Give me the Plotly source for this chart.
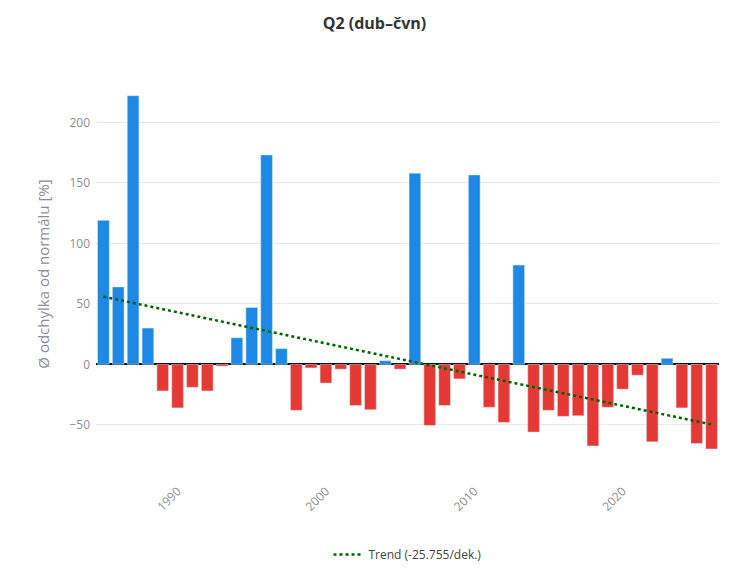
import numpy as np
import plotly.graph_objects as go

# Q2 precipitation anomaly per year (% of normal)
years = list(range(1985, 2027))
anomaly = [119, 64, 222, 30, -22, -36, -19, -22, -1.5, 22,
           47, 173, 13, -38, -3, -15.5, -4, -34, -37.5, 3,
           -4, 158, -50.5, -34, -12, 156.5, -35.5, -48, 82, -56,
           -38, -43, -42.5, -67.5, -35.5, -20.5, -9, -64, 5, -36,
           -65.5, -70]
trend_label = "Trend (-25.755/dek.)"

colors = ['#1E88E5' if v >= 0 else '#E53935' for v in anomaly]

# linear trend fitted to the anomalies
slope, intercept = np.polyfit(years, anomaly, 1)
trend = [slope * y + intercept for y in years]

fig = go.Figure()
fig.add_trace(go.Bar(x=years, y=anomaly, marker=dict(color=colors),
                     showlegend=False))
fig.add_trace(go.Scatter(x=years, y=trend, mode='lines', name=trend_label,
                         line=dict(color='darkgreen', width=2.5, dash='dot')))

fig.update_layout(
    title={'text': '<b>Q2 (dub–čvn)</b>', 'x': 0.5, 'y': 0.974, 'xanchor': 'center',
           'yanchor': 'middle', 'font': dict(size=16, color='#333333')},
    font=dict(family='Open Sans', size=12, color='#444444'),
    width=733, height=580,
    margin=dict(l=88, r=22, t=74, b=122),
    plot_bgcolor='white',
    paper_bgcolor='white',
    bargap=0.21,
    xaxis=dict(tickangle=-45, showgrid=False, tickfont=dict(color='#8a8f99'),
               dtick=10, ticklabelstandoff=15, automargin=False),
    yaxis=dict(title=dict(text='Ø odchylka od normálu [%]', standoff=16,
                          font=dict(size=15, color='#8a8f99')),
               range=[-84, 233.3],
               gridcolor='#e8eaee', zeroline=True, zerolinecolor='black', zerolinewidth=1.5,
               tickfont=dict(color='#8a8f99'), ticklabelstandoff=5, automargin=False),
    legend=dict(orientation='h', x=0.5, xanchor='center', y=-0.193, yanchor='top'),
)

fig.write_html("out.html")
